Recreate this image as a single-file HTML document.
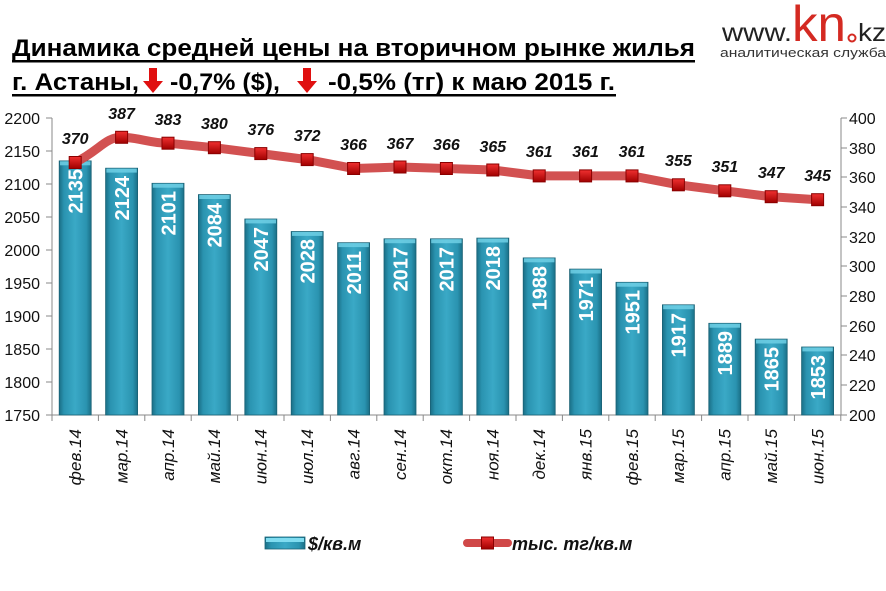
<!DOCTYPE html>
<html><head><meta charset="utf-8"><style>
html,body{margin:0;padding:0;background:#fff;}
svg{display:block;}
</style></head><body>
<svg width="886" height="591" viewBox="0 0 886 591" xmlns="http://www.w3.org/2000/svg" font-family="Liberation Sans, sans-serif">
<defs>
<linearGradient id="bg" x1="0" x2="1" y1="0" y2="0">
<stop offset="0" stop-color="#1a6f86"/><stop offset="0.15" stop-color="#2a93b0"/><stop offset="0.5" stop-color="#3aa9c6"/><stop offset="0.85" stop-color="#2a93b0"/><stop offset="1" stop-color="#1a6f86"/>
</linearGradient>
<linearGradient id="mk" x1="0" x2="0" y1="0" y2="1"><stop offset="0" stop-color="#f03030"/><stop offset="1" stop-color="#a00000"/></linearGradient>
<g id="m"><rect x="-6" y="-6" width="12" height="12" fill="url(#mk)" stroke="#8a0000" stroke-width="1"/></g>
</defs>
<!-- title -->
<text x="12" y="56" font-weight="bold" font-size="24" textLength="683" lengthAdjust="spacingAndGlyphs">Динамика средней цены на вторичном рынке жилья</text>
<rect x="12" y="60" width="683" height="2.5" fill="#000"/>
<g font-weight="bold" font-size="24">
<text x="12" y="90" textLength="127" lengthAdjust="spacingAndGlyphs">г. Астаны,</text>
<text x="170" y="90" textLength="110" lengthAdjust="spacingAndGlyphs">-0,7% ($),</text>
<text x="328" y="90" textLength="287" lengthAdjust="spacingAndGlyphs">-0,5% (тг) к маю 2015 г.</text>
</g>
<rect x="12" y="94" width="604" height="2.5" fill="#000"/>
<path d="M149 68h8v13h6l-10 12-10-12h6z" fill="#e01010"/>
<path d="M303 68h8v13h6l-10 12-10-12h6z" fill="#e01010"/>
<!-- logo -->
<text x="722" y="41" font-size="25" fill="#222" textLength="70" lengthAdjust="spacingAndGlyphs">www.</text>
<text x="792" y="41" font-size="50" fill="#d42a22" textLength="54" lengthAdjust="spacingAndGlyphs">kn</text>
<circle cx="852" cy="38" r="3.5" fill="none" stroke="#d42a22" stroke-width="2"/>
<text x="858" y="41" font-size="25" fill="#222" textLength="28" lengthAdjust="spacingAndGlyphs">kz</text>
<text x="720" y="57" font-size="12.5" fill="#333" textLength="166" lengthAdjust="spacingAndGlyphs">аналитическая служба</text>
<!-- axes -->
<g stroke="#888" stroke-width="1">
<line x1="52" y1="118" x2="52" y2="415"/><line x1="841" y1="118" x2="841" y2="415"/><line x1="46" y1="415" x2="847" y2="415"/>
<line x1="46" y1="118" x2="52" y2="118"/><line x1="46" y1="151" x2="52" y2="151"/><line x1="46" y1="184" x2="52" y2="184"/><line x1="46" y1="217" x2="52" y2="217"/><line x1="46" y1="250" x2="52" y2="250"/><line x1="46" y1="283" x2="52" y2="283"/><line x1="46" y1="316" x2="52" y2="316"/><line x1="46" y1="349" x2="52" y2="349"/><line x1="46" y1="382" x2="52" y2="382"/>
<line x1="841" y1="118" x2="847" y2="118"/><line x1="841" y1="148" x2="847" y2="148"/><line x1="841" y1="177" x2="847" y2="177"/><line x1="841" y1="207" x2="847" y2="207"/><line x1="841" y1="237" x2="847" y2="237"/><line x1="841" y1="266" x2="847" y2="266"/><line x1="841" y1="296" x2="847" y2="296"/><line x1="841" y1="326" x2="847" y2="326"/><line x1="841" y1="355" x2="847" y2="355"/><line x1="841" y1="385" x2="847" y2="385"/>
<line x1="52" y1="415" x2="52" y2="421"/><line x1="98.4" y1="415" x2="98.4" y2="421"/><line x1="144.8" y1="415" x2="144.8" y2="421"/><line x1="191.2" y1="415" x2="191.2" y2="421"/><line x1="237.6" y1="415" x2="237.6" y2="421"/><line x1="284" y1="415" x2="284" y2="421"/><line x1="330.4" y1="415" x2="330.4" y2="421"/><line x1="376.8" y1="415" x2="376.8" y2="421"/><line x1="423.2" y1="415" x2="423.2" y2="421"/><line x1="469.6" y1="415" x2="469.6" y2="421"/><line x1="516" y1="415" x2="516" y2="421"/><line x1="562.4" y1="415" x2="562.4" y2="421"/><line x1="608.8" y1="415" x2="608.8" y2="421"/><line x1="655.2" y1="415" x2="655.2" y2="421"/><line x1="701.6" y1="415" x2="701.6" y2="421"/><line x1="748" y1="415" x2="748" y2="421"/><line x1="794.4" y1="415" x2="794.4" y2="421"/><line x1="840.8" y1="415" x2="840.8" y2="421"/>
</g>
<g font-size="16" fill="#111" text-anchor="end">
<text x="40" y="124">2200</text><text x="40" y="157">2150</text><text x="40" y="190">2100</text><text x="40" y="223">2050</text><text x="40" y="256">2000</text><text x="40" y="289">1950</text><text x="40" y="322">1900</text><text x="40" y="355">1850</text><text x="40" y="388">1800</text><text x="40" y="421">1750</text>
</g>
<g font-size="16" fill="#111">
<text x="849" y="124">400</text><text x="849" y="154">380</text><text x="849" y="183">360</text><text x="849" y="213">340</text><text x="849" y="243">320</text><text x="849" y="272">300</text><text x="849" y="302">280</text><text x="849" y="332">260</text><text x="849" y="361">240</text><text x="849" y="391">220</text><text x="849" y="421">200</text>
</g>
<!-- bars -->
<g fill="url(#bg)" stroke="#1a6275" stroke-width="0.8">
<rect x="59.2" y="160.9" width="32" height="254.1"/><rect x="105.6" y="168.2" width="32" height="246.8"/><rect x="152" y="183.3" width="32" height="231.7"/><rect x="198.4" y="194.6" width="32" height="220.4"/><rect x="244.8" y="219" width="32" height="196"/><rect x="291.2" y="231.5" width="32" height="183.5"/><rect x="337.6" y="242.7" width="32" height="172.3"/><rect x="384" y="238.8" width="32" height="176.2"/><rect x="430.4" y="238.8" width="32" height="176.2"/><rect x="476.8" y="238.1" width="32" height="176.9"/><rect x="523.2" y="257.9" width="32" height="157.1"/><rect x="569.6" y="269.1" width="32" height="145.9"/><rect x="616" y="282.3" width="32" height="132.7"/><rect x="662.4" y="304.8" width="32" height="110.2"/><rect x="708.8" y="323.3" width="32" height="91.7"/><rect x="755.2" y="339.1" width="32" height="75.9"/><rect x="801.6" y="347" width="32" height="68"/>
</g>
<g fill="#6fd0e6" opacity="0.85">
<rect x="60" y="161.3" width="30.4" height="4"/><rect x="106.4" y="168.6" width="30.4" height="4"/><rect x="152.8" y="183.7" width="30.4" height="4"/><rect x="199.2" y="195" width="30.4" height="4"/><rect x="245.6" y="219.4" width="30.4" height="4"/><rect x="292" y="231.9" width="30.4" height="4"/><rect x="338.4" y="243.1" width="30.4" height="4"/><rect x="384.8" y="239.2" width="30.4" height="4"/><rect x="431.2" y="239.2" width="30.4" height="4"/><rect x="477.6" y="238.5" width="30.4" height="4"/><rect x="524" y="258.3" width="30.4" height="4"/><rect x="570.4" y="269.5" width="30.4" height="4"/><rect x="616.8" y="282.7" width="30.4" height="4"/><rect x="663.2" y="305.2" width="30.4" height="4"/><rect x="709.6" y="323.7" width="30.4" height="4"/><rect x="756" y="339.5" width="30.4" height="4"/><rect x="802.4" y="347.4" width="30.4" height="4"/>
</g>
<g font-size="20" font-weight="bold" fill="#fff" text-anchor="end">
<text transform="translate(82.5,169) rotate(-90)">2135</text>
<text transform="translate(128.9,176) rotate(-90)">2124</text>
<text transform="translate(175.3,191) rotate(-90)">2101</text>
<text transform="translate(221.7,203) rotate(-90)">2084</text>
<text transform="translate(268.1,227) rotate(-90)">2047</text>
<text transform="translate(314.5,239) rotate(-90)">2028</text>
<text transform="translate(360.9,251) rotate(-90)">2011</text>
<text transform="translate(407.3,247) rotate(-90)">2017</text>
<text transform="translate(453.7,247) rotate(-90)">2017</text>
<text transform="translate(500.1,246) rotate(-90)">2018</text>
<text transform="translate(546.5,266) rotate(-90)">1988</text>
<text transform="translate(592.9,277) rotate(-90)">1971</text>
<text transform="translate(639.3,290) rotate(-90)">1951</text>
<text transform="translate(685.7,313) rotate(-90)">1917</text>
<text transform="translate(732.1,331) rotate(-90)">1889</text>
<text transform="translate(778.5,347) rotate(-90)">1865</text>
<text transform="translate(824.9,355) rotate(-90)">1853</text>
</g>
<!-- line -->
<path d="M75.2 162.5 C100 150,105 137.3,121.6 137.3 S150 143.2,168 143.2 L214.4 147.7 L260.8 153.6 L307.2 159.6 L353.6 168.5 L400 167 L446.4 168.5 L492.8 170 L539.2 175.9 L585.6 175.9 L632 175.9 L678.4 184.8 L724.8 190.8 L771.2 196.7 L817.6 199.7" fill="none" stroke="#d04848" stroke-width="9" stroke-linejoin="round" stroke-linecap="round" opacity="0.95"/>
<use href="#m" x="75.2" y="162.5"/><use href="#m" x="121.6" y="137.3"/><use href="#m" x="168" y="143.2"/><use href="#m" x="214.4" y="147.7"/><use href="#m" x="260.8" y="153.6"/><use href="#m" x="307.2" y="159.6"/><use href="#m" x="353.6" y="168.5"/><use href="#m" x="400" y="167"/><use href="#m" x="446.4" y="168.5"/><use href="#m" x="492.8" y="170"/><use href="#m" x="539.2" y="175.9"/><use href="#m" x="585.6" y="175.9"/><use href="#m" x="632" y="175.9"/><use href="#m" x="678.4" y="184.8"/><use href="#m" x="724.8" y="190.8"/><use href="#m" x="771.2" y="196.7"/><use href="#m" x="817.6" y="199.7"/>
<g font-size="16" font-weight="bold" font-style="italic" fill="#111" text-anchor="middle">
<text x="75.2" y="144">370</text><text x="121.6" y="119">387</text><text x="168" y="125">383</text><text x="214.4" y="129">380</text><text x="260.8" y="135">376</text><text x="307.2" y="141">372</text><text x="353.6" y="150">366</text><text x="400" y="149">367</text><text x="446.4" y="150">366</text><text x="492.8" y="152">365</text><text x="539.2" y="157">361</text><text x="585.6" y="157">361</text><text x="632" y="157">361</text><text x="678.4" y="166">355</text><text x="724.8" y="172">351</text><text x="771.2" y="178">347</text><text x="817.6" y="181">345</text>
</g>
<!-- x labels -->
<g font-size="17" font-style="italic" fill="#111" text-anchor="end">
<text transform="translate(81,429) rotate(-90)">фев.14</text>
<text transform="translate(127.4,429) rotate(-90)">мар.14</text>
<text transform="translate(173.8,429) rotate(-90)">апр.14</text>
<text transform="translate(220.2,429) rotate(-90)">май.14</text>
<text transform="translate(266.6,429) rotate(-90)">июн.14</text>
<text transform="translate(313,429) rotate(-90)">июл.14</text>
<text transform="translate(359.4,429) rotate(-90)">авг.14</text>
<text transform="translate(405.8,429) rotate(-90)">сен.14</text>
<text transform="translate(452.2,429) rotate(-90)">окт.14</text>
<text transform="translate(498.6,429) rotate(-90)">ноя.14</text>
<text transform="translate(545,429) rotate(-90)">дек.14</text>
<text transform="translate(591.4,429) rotate(-90)">янв.15</text>
<text transform="translate(637.8,429) rotate(-90)">фев.15</text>
<text transform="translate(684.2,429) rotate(-90)">мар.15</text>
<text transform="translate(730.6,429) rotate(-90)">апр.15</text>
<text transform="translate(777,429) rotate(-90)">май.15</text>
<text transform="translate(823.4,429) rotate(-90)">июн.15</text>
</g>
<!-- legend -->
<rect x="265" y="537" width="40" height="12" fill="url(#bg)" stroke="#1a6275" stroke-width="0.8"/>
<rect x="266" y="538" width="38" height="4" fill="#7fdcf0"/>
<text x="308" y="550" font-size="18" font-weight="bold" font-style="italic" fill="#111">$/кв.м</text>
<line x1="467" y1="543" x2="508" y2="543" stroke="#d04848" stroke-width="8" stroke-linecap="round"/>
<use href="#m" x="487.5" y="543"/>
<text x="512" y="550" font-size="18" font-weight="bold" font-style="italic" fill="#111">тыс. тг/кв.м</text>
</svg>
</body></html>
